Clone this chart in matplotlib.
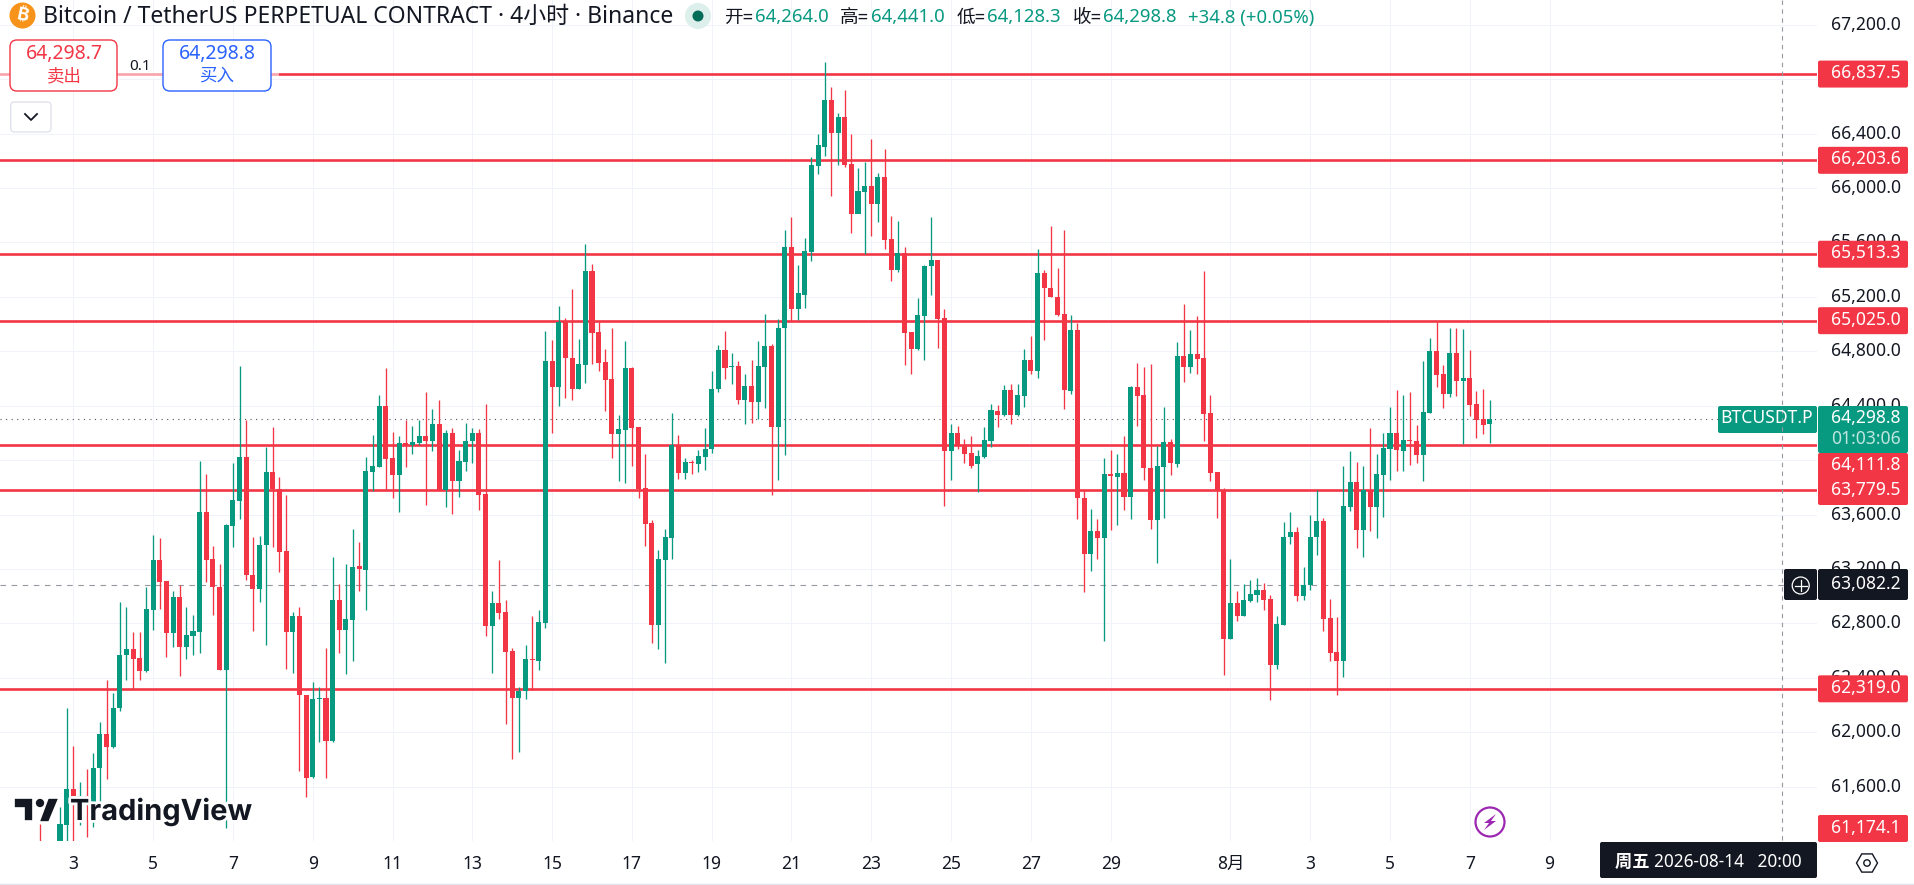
import numpy as np
import matplotlib
matplotlib.use("Agg")
import matplotlib.pyplot as plt
from matplotlib.patches import FancyBboxPatch, Circle, Polygon, Rectangle, RegularPolygon
from matplotlib.transforms import offset_copy
import matplotlib.patheffects as pe

FIRST_CANDLE = -5  # index 0 is the 4h candle of July 3 00:00
opens = [
61077,60950,61000,61077,61318,61583,61521,61533,61488,61737,
61990,61894,62176,62566,62612,62545,62450,62898,63267,63114,
62728,62993,62624,62707,62740,63620,63275,63068,62458,63516,
63703,64022,63159,63051,63375,63914,63790,63329,62736,62857,
62272,61670,62247,62251,61936,62973,62753,62827,63222,63193,
63914,63952,64400,64014,63889,64126,64113,64126,64180,64138,
64267,63782,64200,63848,63989,64142,64200,63752,62778,62952,
62886,62599,62251,62305,62537,62525,62803,64727,64536,65018,
64752,64524,64698,65391,64943,64723,64599,64192,64221,64678,
64242,63798,63537,62790,63267,63429,64105,63906,63989,63972,
64026,64080,64520,64810,64686,64694,64441,64545,64429,64686,
64839,64242,64968,65565,65113,65213,65532,66163,66304,66648,
66403,66523,66175,65810,65972,66013,65885,66080,65627,65399,
65520,64943,64819,65059,65424,65470,65043,64064,64200,64113,
64055,63968,64022,64142,64362,64329,64516,64329,64470,64736,
64657,65374,65262,65196,65072,64508,64955,63723,63309,63479,
63425,63898,63877,63906,63728,64536,64478,63939,63562,63952,
64134,63968,64765,64682,64781,64752,64346,63914,63782,62682,
62952,62857,62964,63010,63047,62977,62496,62790,63433,63470,
62998,63080,63433,63553,62840,62591,62525,63657,63840,63487,
63777,63657,63893,64080,64200,64070,64148,64138,64040,64349,
64802,64633,64489,64787,64584,64604,64413,64300,64264.0]
closes = [
60953,61000,61040,61326,61583,61533,61533,61521,61737,61990,
61894,62176,62566,62612,62541,62450,62906,63267,63105,62728,
62993,62624,62715,62745,63620,63267,63064,62458,63524,63707,
64022,63155,63051,63375,63914,63790,63325,62736,62857,62272,
61666,62247,62255,61936,62973,62753,62832,63217,63197,63923,
63956,64400,64010,63889,64126,64113,64134,64180,64138,64267,
63782,64200,63848,63993,64142,64200,63744,62778,62952,62877,
62591,62251,62301,62537,62529,62807,64727,64536,65018,64752,
64524,64707,65391,64935,64715,64590,64192,64230,64678,64238,
63790,63533,62790,63275,63433,64113,63906,63985,63981,64030,
64084,64524,64810,64678,64694,64441,64545,64429,64694,64839,
64242,64972,65565,65113,65229,65536,66171,66316,66648,66403,
66523,66171,65810,65980,66013,65885,66084,65619,65399,65520,
64935,64819,65067,65428,65470,65038,64064,64200,64105,64047,
63960,64030,64147,64366,64333,64516,64329,64478,64736,64657,
65374,65262,65196,65067,64512,64955,63719,63309,63479,63425,
63898,63881,63906,63728,64536,64474,63939,63562,63956,64134,
63976,64765,64686,64781,64744,64337,63906,63782,62686,62952,
62857,62973,63018,63047,62973,62496,62794,63437,63470,63002,
63080,63437,63553,62832,62583,62525,63661,63840,63487,63777,
63657,63898,64088,64200,64076,64146,64141,64040,64354,64802,
64628,64489,64787,64584,64604,64408,64295,64261,64298.8]
highs = [
61326,61050,61100,61450,62176,61898,61633,61732,61844,62073,
62384,62288,62956,62923,62736,62736,63068,63450,63429,63114,
63035,63085,62919,62861,63993,63898,63367,63234,63533,63981,
64694,64296,63433,63441,64097,64242,63877,63744,62881,62923,
62272,62371,62334,62620,63288,63089,63234,63491,63400,64022,
64188,64478,64678,64209,64180,64292,64250,64292,64499,64375,
64445,64221,64238,64076,64271,64238,64230,64412,63035,63263,
62973,62620,62330,62641,62852,62902,64951,64881,65134,65047,
65258,64893,65586,65441,65018,64819,64968,64333,64877,64686,
64242,64043,63558,63338,63491,64350,64184,64014,64001,64072,
64238,64657,64843,64951,64789,64727,64632,64736,64877,65076,
64852,65038,65690,65789,65432,65632,66229,66395,66926,66739,
66548,66718,66399,66146,66192,66362,66113,66287,65793,65756,
65565,64943,65192,65432,65785,65470,65109,64263,64250,64155,
64180,64072,64242,64416,64404,64553,64561,64561,64819,64910,
65553,65399,65723,65412,65690,65067,65009,63782,63641,63566,
64018,64076,64043,64180,64545,64715,64686,64707,64105,64391,
64155,64868,65150,64955,65059,65391,64478,63914,63798,63275,
63039,63089,63118,63130,63097,63006,62852,63545,63620,63508,
63213,63599,63782,63574,62977,62848,63960,64064,63989,63960,
64238,64043,64196,64391,64516,64479,64501,64256,64729,64898,
65013,64699,64969,64969,64961,64810,64506,64523,64441.0]
lows = [
60911,60900,60950,61036,61160,61160,61318,61230,61305,61488,
61658,61882,62156,62384,62321,62384,62446,62749,62906,62550,
62624,62413,62537,62570,62583,63105,62861,62458,61297,63358,
63566,63122,62745,62956,62641,63358,63180,62467,62438,61712,
61521,61666,61927,61666,61927,62583,62429,62525,63035,62898,
63773,63947,63782,63723,63620,63952,64043,64113,63670,64064,
63782,63657,63603,63732,63918,63981,63636,62707,62438,62832,
62060,61803,61857,62247,62313,62458,62765,64196,64395,64458,
64445,64520,64570,64707,64657,64362,64014,63848,63831,63956,
63719,63367,62657,62612,62508,63275,63860,63864,63898,63914,
63931,64055,64499,64595,64561,64412,64263,64271,64300,64383,
63740,63856,64039,65026,65030,65117,65461,66104,66237,65943,
66171,66154,65673,65814,65515,65648,65752,65549,65316,65383,
64698,64632,64810,64736,65213,64823,63661,63856,64084,63981,
63939,63765,64014,64093,64242,64321,64263,64321,64387,64636,
64607,64881,65196,65059,64375,64487,63566,63027,63188,63271,
62670,63483,63524,63636,63566,64250,63856,63491,63242,63578,
63889,63952,64574,64644,64632,64142,63844,63578,62417,62682,
62819,62857,62960,62956,62902,62234,62462,62786,63387,62964,
62973,63043,63304,62745,62525,62272,62404,63628,63354,63288,
63479,63429,63582,63856,63918,63920,63967,63981,63849,64349,
64538,64386,64466,64471,64116,64327,64165,64192,64128.3]

level_prices = [66837.5, 66203.6, 65513.3, 65025.0, 64111.8, 63779.5, 62319.0]
last_price = 64298.8
cross_price = 63082.2
price_ticks = [61600, 62000, 62400, 62800, 63200, 63600, 64000, 64400, 64800,
               65200, 65600, 66000, 66400, 66800, 67200]
covered_ticks = [64000, 66800]  # wholly under the level labels in the reference
day_ticks = [0, 12, 24, 36, 48, 60, 72, 84, 96, 108, 120, 132, 144, 156, 174, 186, 198, 210, 222]
day_labels = ['3', '5', '7', '9', '11', '13', '15', '17', '19', '21', '23', '25', '27', '29',
              '8月', '3', '5', '7', '9']
cross_candle = 257

RED = '#F23645'; GREEN = '#089981'; DARK = '#131722'; BLUE = '#2962FF'
FONT = ['Noto Sans', 'Noto Sans CJK SC', 'DejaVu Sans']
plt.rcParams['font.family'] = FONT
W, H = 1914, 885
PW, PH = 1817, 841
fig = plt.figure(figsize=(W/100, H/100), dpi=100, facecolor='white')
ax = fig.add_axes([0, (H-PH)/H, PW/W, PH/H])
PX = 6.65; X0 = 73.3
ax.set_xlim(-X0/PX, (PW-X0)/PX)
ax.set_ylim(67382-PH/0.13605, 67382)
for s in ax.spines.values():
    s.set_visible(False)
ax.set_axisbelow(True)
ax.grid(color='#F0F3FA', lw=0.72)
ax.yaxis.tick_right()
ax.set_yticks(price_ticks)
ax.set_yticklabels(['' if v in covered_ticks else f'{v:,.1f}' for v in price_ticks], fontsize=12.6, color=DARK)
ax.tick_params(axis='y', length=0, pad=10)
for t in ax.get_yticklabels():
    t.set_transform(offset_copy(t.get_transform(), fig=fig, y=2, units='dots'))
ax.set_xticks(day_ticks)
ax.set_xticklabels(day_labels, fontsize=12.6, color=DARK)
ax.tick_params(axis='x', length=0, pad=10)

o = np.array(opens, float); c = np.array(closes, float)
hi = np.array(highs, float); lo = np.array(lows, float)
xs = np.arange(len(o)) + FIRST_CANDLE
cols = [GREEN if b >= a else RED for a, b in zip(o, c)]
ax.vlines(xs, lo, hi, colors=cols, lw=0.95, zorder=3)
ax.bar(xs, np.maximum(np.abs(c-o), 6), bottom=np.minimum(o, c), width=0.76, color=cols,
       linewidth=0, zorder=4)
for v in level_prices:
    ax.axhline(v, color=RED, lw=1.9, zorder=2)
ax.axhline(last_price, color='#50535E', lw=0.8, ls=(0, (1, 4)), zorder=2)
ax.axhline(cross_price, color='#9598A1', lw=0.8, ls=(0, (5, 5)), zorder=2)

ov = fig.add_axes([0, 0, 1, 1])
ov.set_xlim(0, W); ov.set_ylim(H, 0); ov.axis('off'); ov.patch.set_alpha(0)

def py(v):
    return H - ax.transData.transform((0, v))[1]

def box(x0, y0, x1, y1, fc, ec='none', r=2, lw=1.0, z=5):
    ov.add_patch(FancyBboxPatch((x0+r, y0+r), x1-x0-2*r, y1-y0-2*r,
                 boxstyle=f'round,pad={r},rounding_size={r}', fc=fc, ec=ec, lw=lw, zorder=z))

def txt(x, y, s, color=DARK, size=12.6, ha='center', weight='normal', z=7, **kw):
    return ov.text(x, y, s, color=color, fontsize=size, ha=ha, va='center', weight=weight, zorder=z, **kw)

# price-axis labels
for v in level_prices:
    if v in (64111.8, 63779.5):
        continue
    box(1818, py(v)-13.5, 1908, py(v)+13.5, RED)
    txt(1831, py(v)-1, f'{v:,.1f}', 'white', ha='left')
box(1818, 815, 1908, 842, RED)
txt(1831, 828, '61,174.1', 'white', ha='left')
box(1818, 453, 1908, 505, RED)
txt(1831, 465, f'{level_prices[4]:,.1f}', 'white', ha='left')
txt(1831, 490, f'{level_prices[5]:,.1f}', 'white', ha='left')
box(1818, 406, 1908, 453, GREEN)
txt(1831, 418, f'{last_price:,.1f}', 'white', ha='left')
txt(1831, 439, '01:03:06', '#BFE6DF', ha='left')
box(1718, 406, 1817, 433, GREEN)
txt(1767, 418, 'BTCUSDT.P', 'white')
box(1818, 569, 1908, 600, DARK)
txt(1831, 584, f'{cross_price:,.1f}', 'white', ha='left')
box(1784, 569, 1817, 600, DARK)
ov.add_patch(Circle((1800.7, 585.5), 8.5, fc='none', ec='white', lw=0.9, zorder=7))
ov.plot([1795, 1806.5], [585.5, 585.5], color='white', lw=0.9, zorder=7)
ov.plot([1800.7, 1800.7], [580, 591], color='white', lw=0.9, zorder=7)
cx = ax.transData.transform((cross_candle, 0))[0] - 0.6
ov.plot([cx, cx], [0, PH], color='#9598A1', lw=0.8, ls=(0, (4, 4)), zorder=6)

# time label and bottom strip
box(1600, 842, 1817, 878, DARK)
txt(1708, 862, '周五 2026-08-14   20:00', 'white', size=12.4, weight='bold')
ov.plot([0, W], [884, 884], color='#E0E3EB', lw=1)
ov.add_patch(RegularPolygon((1867, 863), 6, radius=10.5, orientation=np.pi/2, fc='none', ec=DARK, lw=1))
ov.add_patch(Circle((1867, 863), 3.2, fc='none', ec=DARK, lw=1))

# header
ov.add_patch(Circle((22.5, 15.5), 13, fc='#F7931A', ec='none'))
txt(22.5, 15.5, '₿', 'white', size=13, weight='bold', rotation=-12,
    family=['Inter', 'Roboto', 'Open Sans', 'Lato', 'Liberation Sans', 'Noto Sans CJK SC', 'DejaVu Sans'])
txt(43, 17, 'Bitcoin / TetherUS PERPETUAL CONTRACT · 4小时 · Binance', DARK, size=16.5, ha='left')
ov.add_patch(Circle((698, 16), 13, fc='#DCEFEB', ec='none'))
ov.add_patch(Circle((698, 16), 5.5, fc='#066D58', ec='none'))
for x, s, col in [(724.5, '开=', DARK), (754.5, '64,264.0', GREEN), (840, '高=', DARK), (871, '64,441.0', GREEN),
                  (957, '低=', DARK), (987, '64,128.3', GREEN), (1073, '收=', DARK), (1103, '64,298.8', GREEN),
                  (1188, '+34.8 (+0.05%)', GREEN)]:
    txt(x, 17.5, s, col, size=13.4, ha='left')

# order buttons
ov.add_patch(Rectangle((0, 70), 279, 8, fc='white', alpha=0.55, ec='none', zorder=4))
box(10, 40, 117, 91, 'white', RED, r=7, lw=1)
box(163, 40, 271, 91, 'white', BLUE, r=7, lw=1)
txt(64, 54, '64,298.7', RED, size=14, weight='bold')
txt(64, 76, '卖出', RED, size=12.6)
txt(217, 54, '64,298.8', BLUE, size=14, weight='bold')
txt(217, 76, '买入', BLUE, size=12.6)
txt(140, 66, '0.1', DARK, size=11)
box(10.7, 102, 51, 132, 'white', '#E0E3EB', r=4, lw=1)
ov.plot([25, 31, 37], [114, 120, 114], color=DARK, lw=1.3, zorder=7)

# TradingView logo
halo = [pe.withStroke(linewidth=4, foreground='white')]
logo = dict(fc=DARK, ec='white', lw=1.2, zorder=7)
ov.add_patch(Polygon([(14, 798), (33, 798), (33, 821), (24, 821), (24, 808), (14, 808)], closed=True, **logo))
ov.add_patch(Circle((40, 803), 5, **logo))
ov.add_patch(Polygon([(48, 798), (59, 798), (49, 822), (39, 822)], closed=True, **logo))
txt(70, 812, 'TradingView', DARK, size=20.9, ha='left', weight='bold', family='Inter', path_effects=halo)

# lightning badge
ov.add_patch(Circle((1490, 822), 14.5, fc='white', ec='#9C27B0', lw=1.6, zorder=7))
ov.add_patch(Polygon([(1496, 814), (1484, 823), (1489, 823), (1484, 830), (1496, 821), (1491, 821)],
                     closed=True, fc='#9C27B0', ec='none', zorder=8))

fig.savefig('out.png', dpi=100, facecolor='white')
